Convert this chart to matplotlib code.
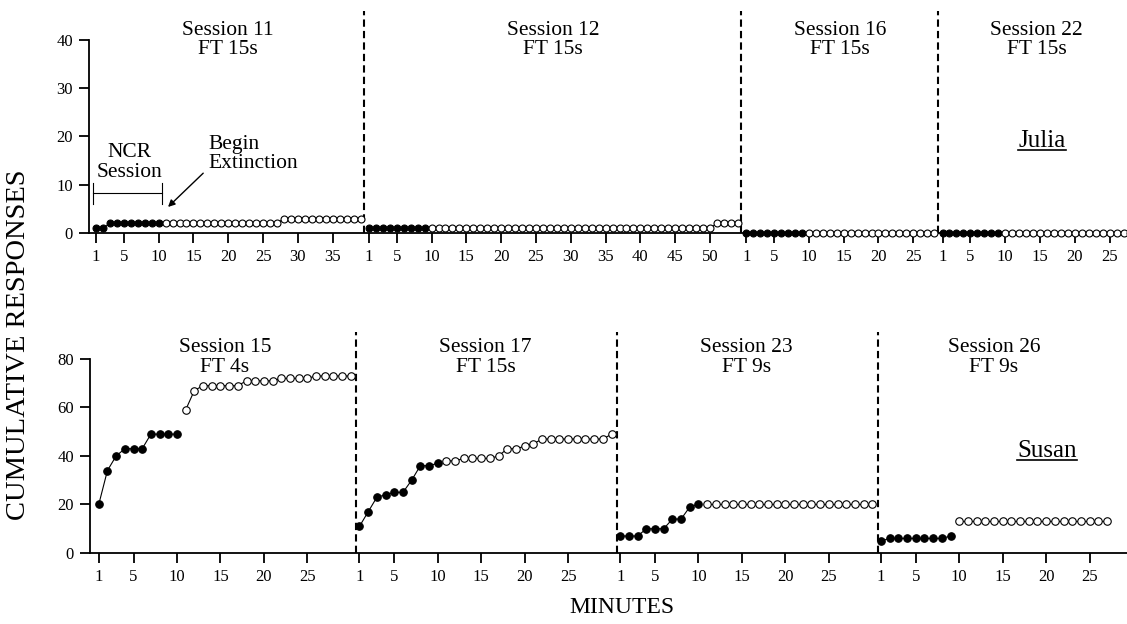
import numpy as np
import matplotlib.pyplot as plt
from matplotlib.lines import Line2D

plt.rcParams['font.family'] = ['Liberation Serif', 'DejaVu Serif']

# Julia (top panel)
julia_titles = ['Session 11', 'Session 12', 'Session 16', 'Session 22']
julia_sched = ['FT 15s', 'FT 15s', 'FT 15s', 'FT 15s']
julia_s11 = [1, 1, 2, 2, 2, 2, 2, 2, 2, 2,
             2, 2, 2, 2, 2, 2, 2, 2, 2, 2, 2, 2, 2, 2, 2, 2, 2,
             3, 3, 3, 3, 3, 3, 3, 3, 3, 3, 3, 3]
julia_s12 = [1, 1, 1, 1, 1, 1, 1, 1, 1,
             1, 1, 1, 1, 1, 1, 1, 1, 1, 1, 1, 1, 1, 1, 1, 1, 1, 1, 1, 1, 1,
             1, 1, 1, 1, 1, 1, 1, 1, 1, 1, 1, 1, 1, 1, 1, 1, 1, 1, 1, 1,
             2, 2, 2, 2]
julia_s16 = [0, 0, 0, 0, 0, 0, 0, 0, 0,
             0, 0, 0, 0, 0, 0, 0, 0, 0, 0, 0, 0, 0, 0, 0, 0, 0, 0, 0]
julia_s22 = [0, 0, 0, 0, 0, 0, 0, 0, 0,
             0, 0, 0, 0, 0, 0, 0, 0, 0, 0, 0, 0, 0, 0, 0, 0, 0, 0, 0]
julia_data = [julia_s11, julia_s12, julia_s16, julia_s22]
julia_ncr = [10, 9, 9, 9]
julia_ticks = [[1, 5, 10, 15, 20, 25, 30, 35],
               [1, 5, 10, 15, 20, 25, 30, 35, 40, 45, 50],
               [1, 5, 10, 15, 20, 25],
               [1, 5, 10, 15, 20, 25]]

# Susan (bottom panel)
susan_titles = ['Session 15', 'Session 17', 'Session 23', 'Session 26']
susan_sched = ['FT 4s', 'FT 15s', 'FT 9s', 'FT 9s']
susan_s15 = [20, 34, 40, 43, 43, 43, 49, 49, 49, 49,
             59, 67, 69, 69, 69, 69, 69, 71, 71, 71, 71, 72, 72, 72, 72,
             73, 73, 73, 73, 73]
susan_s17 = [11, 17, 23, 24, 25, 25, 30, 36, 36, 37,
             38, 38, 39, 39, 39, 39, 40, 43, 43, 44, 45, 47, 47, 47, 47,
             47, 47, 47, 47, 49]
susan_s23 = [7, 7, 7, 10, 10, 10, 14, 14, 19, 20,
             20, 20, 20, 20, 20, 20, 20, 20, 20, 20, 20, 20, 20, 20, 20,
             20, 20, 20, 20, 20]
susan_s26 = [5, 6, 6, 6, 6, 6, 6, 6, 7,
             13, 13, 13, 13, 13, 13, 13, 13, 13, 13, 13, 13, 13, 13, 13,
             13, 13, 13]
susan_data = [susan_s15, susan_s17, susan_s23, susan_s26]
susan_ncr = [10, 10, 10, 9]
susan_ticks = [[1, 5, 10, 15, 20, 25]] * 4


def draw_panel(ax, data, ncr, ticks, titles, scheds, gap, dash_at, ms,
               title_y, dash_top):
    # gap: extra room (minutes) between sessions, dash_at: divider after last point
    offset = 0.0
    tick_pos, tick_lab = [], []
    for i, (vals, n_ncr) in enumerate(zip(data, ncr)):
        n = len(vals)
        x = offset + np.arange(1, n + 1)
        v = np.array(vals)
        ax.plot(x[:n_ncr], v[:n_ncr], '-o', color='k', mfc='k', mec='k',
                ms=ms, lw=0.8, mew=0.8, clip_on=False, zorder=3)
        ax.plot(x[n_ncr:], v[n_ncr:], '-o', color='k', mfc='white', mec='k',
                ms=ms, lw=0.8, mew=0.8, clip_on=False, zorder=3)
        for t in ticks[i]:
            tick_pos.append(offset + t)
            tick_lab.append(str(t))
        ax.text(offset + (n + 1) / 2, title_y, titles[i] + '\n' + scheds[i],
                ha='center', va='center', fontsize=15.5, linespacing=1.05)
        if i < len(data) - 1:
            ax.vlines(offset + n + dash_at, 0, dash_top, colors='k', lw=1.5,
                      linestyles=(0, (3.5, 2)), clip_on=False, zorder=2)
        offset += n + gap
    ax.set_xticks(tick_pos)
    ax.set_xticklabels(tick_lab)
    ax.spines['top'].set_visible(False)
    ax.spines['right'].set_visible(False)
    for s in ['left', 'bottom']:
        ax.spines[s].set_linewidth(1.3)
    ax.tick_params(axis='both', direction='out', length=7.5, width=1.3,
                   labelsize=12, pad=4)


fig = plt.figure(figsize=(11.27, 6.24), dpi=100)

ax1 = fig.add_axes([0.079, 0.6266, 0.921, 0.3093])
draw_panel(ax1, julia_data, julia_ncr, julia_ticks, julia_titles, julia_sched,
           gap=0.2, dash_at=0.5, ms=5.0, title_y=40, dash_top=46)
ax1.set_xlim(0, 149.1)
ax1.set_ylim(0, 40)
ax1.set_yticks([0, 10, 20, 30, 40])

ax2 = fig.add_axes([0.0799, 0.1138, 0.9201, 0.3109])
draw_panel(ax2, susan_data, susan_ncr, susan_ticks, susan_titles, susan_sched,
           gap=0.0, dash_at=0.6, ms=5.4, title_y=80.7, dash_top=91)
ax2.set_xlim(0, 119.3)
ax2.set_ylim(0, 80)
ax2.set_yticks([0, 20, 40, 60, 80])

# NCR bracket and extinction arrow
ax1.plot([0.57, 10.49], [8.28, 8.28], color='k', lw=0.8, clip_on=False)
ax1.plot([0.57, 0.57], [6.0, 10.4], color='k', lw=0.8, clip_on=False)
ax1.plot([10.49, 10.49], [6.0, 10.4], color='k', lw=0.8, clip_on=False)
ax1.text(5.75, 14.6, 'NCR\nSession', ha='center', va='center', fontsize=15.5,
         linespacing=1.05)
ax1.text(17.1, 16.4, 'Begin\nExtinction', ha='left', va='center', fontsize=15.5,
         linespacing=1.05)
ax1.annotate('', xy=(11.35, 5.4), xytext=(16.4, 12.4),
             arrowprops=dict(arrowstyle='-|>', color='k', lw=1.0,
                             mutation_scale=10, shrinkA=0, shrinkB=0))

t1 = ax1.text(136.9, 19.0, 'Julia', ha='center', va='center', fontsize=18)
t2 = ax2.text(110.1, 42, 'Susan', ha='center', va='center', fontsize=18)

fig.text(0.016, 0.447, 'CUMULATIVE RESPONSES', rotation=90, ha='center',
         va='center', fontsize=20.5)
fig.text(0.552, 0.027, 'MINUTES', ha='center', va='center', fontsize=17)

# underline the names
fig.canvas.draw()
r = fig.canvas.get_renderer()
inv = fig.transFigure.inverted()
for t in (t1, t2):
    bb = t.get_window_extent(r)
    (x0, y0), (x1, _) = inv.transform([[bb.x0, bb.y0 + 2], [bb.x1, bb.y1]])
    fig.add_artist(Line2D([x0, x1], [y0, y0], color='k', lw=1.2,
                          transform=fig.transFigure))

fig.savefig('out.png', dpi=100)
